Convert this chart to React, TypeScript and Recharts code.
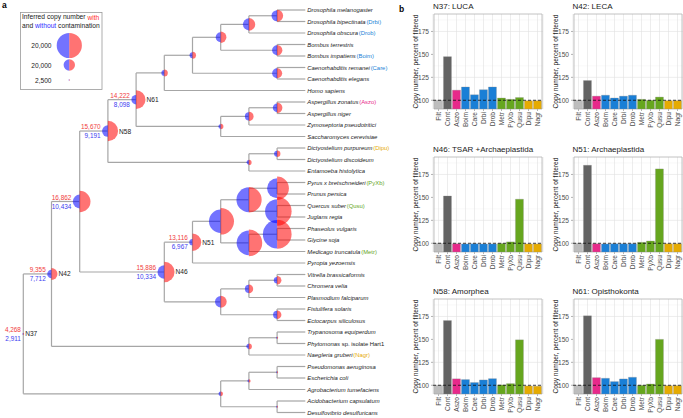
import {
  Bar,
  BarChart,
  CartesianGrid,
  Cell,
  ReferenceArea,
  ReferenceLine,
  Scatter,
  ScatterChart,
  XAxis,
  YAxis,
  ZAxis,
} from "recharts"

// ---- panel b data ----
const categories = ["Filt", "Cont", "Aszo", "Boim", "Care", "Drbi", "Drob", "Metr", "PyXb", "Qusu", "Dipu", "Nagr"]

const n37 = [100, 147.5, 111, 114.5, 106, 111.5, 114.5, 102.5, 101, 103, 99.5, 99.5]
const n42 = [100, 121.5, 104.5, 105.5, 102.5, 104.5, 105.5, 101, 100, 103.5, 99.6, 99.6]
const n46 = [100, 151.5, 99.5, 99.3, 99.5, 99.3, 99.3, 99.8, 101.5, 148, 99.3, 99.3]
const n51 = [100, 185, 99.5, 99.3, 99.5, 99.5, 99.5, 101, 102.5, 181, 99.5, 99.5]
const n58 = [100, 170.5, 107, 106.2, 103, 105.8, 107.2, 100.4, 101.8, 149.5, 99.3, 99]
const n61 = [100, 175.7, 108.3, 107.6, 104, 106.9, 108.7, 100, 101.4, 150, 99.6, 99.6]

const panelTitles = [
  "N37: LUCA",
  "N42: LECA",
  "N46: TSAR +Archaeplastida",
  "N51: Archaeplastida",
  "N58: Amorphea",
  "N61: Opisthokonta",
]
const panelValues = [n37, n42, n46, n51, n58, n61]

const yTicks = [100, 125, 150, 175]
const yMinor = [112.5, 137.5, 162.5, 187.5]

// ---- panel a data ----
const species = [
  "Drosophila melanogaster",
  "Drosophila bipectinata",
  "Drosophila obscura",
  "Bombus terrestris",
  "Bombus impatiens",
  "Caenorhabditis remanei",
  "Caenorhabditis elegans",
  "Homo sapiens",
  "Aspergillus zonatus",
  "Aspergillus niger",
  "Zymoseptoria pseudotritici",
  "Saccharomyces cerevisiae",
  "Dictyostelium purpureum",
  "Dictyostelium discoideum",
  "Entamoeba histolytica",
  "Pyrus x bretschneideri",
  "Prunus persica",
  "Quercus suber",
  "Juglans regia",
  "Phaseolus vulgaris",
  "Glycine soja",
  "Medicago truncatula",
  "Pyropia yezoensis",
  "Vitrella brassicaformis",
  "Chromera velia",
  "Plasmodium falciparum",
  "Fistulifera solaris",
  "Ectocarpus siliculosus",
  "Trypanosoma equiperdum",
  "Phytomonas| sp. isolate Hart1",
  "Naegleria gruberi",
  "Pseudomonas aeruginosa",
  "Escherichia coli",
  "Agrobacterium tumefaciens",
  "Acidobacterium capsulatum",
  "Desulfovibrio desulfuricans",
]

const speciesCodes = [
  "", "Drbi", "Drob", "", "Boim", "Care", "", "", "Aszo", "", "", "", "Dipu", "", "", "PyXb", "", "Qusu",
  "", "", "", "Metr", "", "", "", "", "", "", "", "", "Nagr", "", "", "", "", "",
]

// [node, child, child, copies with contamination, copies without]
const clades: [string, string, string, number, number][] = [
  ["dmdb", "L1", "L2", 9400, 8900],
  ["dros", "dmdb", "L3", 9740, 9370],
  ["bomb", "L4", "L5", 8630, 8340],
  ["ins", "dros", "bomb", 9040, 8340],
  ["caen", "L6", "L7", 8400, 8300],
  ["ecd", "ins", "caen", 7150, 6800],
  ["met", "ecd", "L8", 7150, 6800],
  ["asp", "L9", "L10", 8630, 7730],
  ["aspz", "asp", "L11", 8065, 7500],
  ["fun", "aspz", "L12", 6680, 6500],
  ["N61", "met", "fun", 14222, 8098],
  ["dic", "L13", "L14", 7020, 6840],
  ["amo", "dic", "L15", 6680, 6500],
  ["N58", "N61", "amo", 15670, 9191],
  ["pp", "L16", "L17", 19000, 15400],
  ["qj", "L18", "L19", 25660, 19460],
  ["rf", "pp", "qj", 21300, 20500],
  ["pg", "L20", "L21", 25660, 25000],
  ["fab", "pg", "L22", 22550, 20140],
  ["eud", "rf", "fab", 22550, 18800],
  ["N51", "eud", "L23", 13116, 6967],
  ["vc", "L24", "L25", 7730, 7020],
  ["alv", "vc", "L26", 7730, 7500],
  ["str", "L27", "L28", 7730, 7500],
  ["tsar", "alv", "str", 9370, 9040],
  ["N46", "N51", "tsar", 15886, 10334],
  ["n44", "N58", "N46", 16862, 10434],
  ["tryp", "L29", "L30", 6100, 6050],
  ["disc", "tryp", "L31", 6840, 6600],
  ["N42", "n44", "disc", 9355, 7712],
  ["pe", "L32", "L33", 6100, 6050],
  ["pro", "pe", "L34", 6270, 6200],
  ["ad", "L35", "L36", 6030, 6020],
  ["bac", "pro", "ad", 6500, 6450],
  ["N37", "N42", "bac", 4268, 2911],
]

const namedNodes = ["N37", "N42", "N46", "N51", "N58", "N61"]
const numberedNodes = ["N37", "N42", "n44", "N46", "N51", "N58", "N61"]

const legendLabels = ["20,000", "20,000", "2,500"]

// ---- styles ----
const categoryColors = [
  "#bdbdbd", "#636363", "#e7298a", "#1a7fd6", "#1a7fd6", "#1a7fd6", "#1a7fd6",
  "#66a61e", "#66a61e", "#66a61e", "#e6ab02", "#e6ab02",
]
const FONT = "'Liberation Sans', Arial, Helvetica, sans-serif"
const RED = "#ff0000"
const BLUE = "#0000ff"
const branchColor = "#a6a6a6"

// ---- tree layout (cladogram, tips aligned) ----
const pos: Record<string, { x: number; y: number }> = {}
species.forEach((_, i) => {
  pos["L" + (i + 1)] = { x: 10, y: i + 1 }
})
clades.forEach(([id, a, b]) => {
  pos[id] = { x: Math.min(pos[a].x, pos[b].x) - 1, y: (pos[a].y + pos[b].y) / 2 }
})

const nodeData = clades.map(([id, , , red, blue]) => ({
  id,
  x: pos[id].x,
  y: pos[id].y,
  red,
  blue,
  named: namedNodes.includes(id),
  numbered: numberedNodes.includes(id),
}))

const leafData = species.map((s, i) => {
  const [name, extra] = s.split("|")
  return { x: 10, y: i + 1, name, extra: extra || "", code: speciesCodes[i] }
})

const segments: { x1: number; y1: number; x2: number; y2: number }[] = []
clades.forEach(([id, a, b]) => {
  const p = pos[id]
  segments.push({ x1: p.x, y1: pos[a].y, x2: p.x, y2: pos[b].y })
  segments.push({ x1: p.x, y1: pos[a].y, x2: pos[a].x, y2: pos[a].y })
  segments.push({ x1: p.x, y1: pos[b].y, x2: pos[b].x, y2: pos[b].y })
})

const fmt = (v: number) => v.toLocaleString("en-US")

const halfPath = (cx: number, cy: number, r: number, left: boolean) =>
  `M${cx},${cy - r}A${r},${r} 0 0 ${left ? 0 : 1} ${cx},${cy + r}Z`

const codeColor = (code: string) => categoryColors[categories.indexOf(code)]

function BlueHalf(p: any) {
  const r = Math.max((p.width || 0) / 2, 0.9)
  const d = p.payload
  return (
    <g>
      <path d={halfPath(p.cx, p.cy, r, true)} fill={BLUE} fillOpacity={0.55} />
      {d.numbered && (
        <g fontSize={6.4}>
          <text x={p.cx - r - 1.5} y={p.cy - 4.4} textAnchor="end" dominantBaseline="central" fill="#f03c3c">
            {fmt(d.red)}
          </text>
          <text x={p.cx - r - 1.5} y={p.cy + 4.8} textAnchor="end" dominantBaseline="central" fill="#3c3cf0">
            {fmt(d.blue)}
          </text>
        </g>
      )}
    </g>
  )
}

function RedHalf(p: any) {
  const r = Math.max((p.width || 0) / 2, 0.9)
  const d = p.payload
  return (
    <g>
      <path d={halfPath(p.cx, p.cy, r, false)} fill={RED} fillOpacity={0.55} />
      {d.named && (
        <text x={p.cx + r + 1} y={p.cy} dominantBaseline="central" fontSize={6.6} fill="#1a1a1a">
          {d.id}
        </text>
      )}
    </g>
  )
}

function LeafLabel(p: any) {
  const d = p.payload
  return (
    <text x={p.cx + 2} y={p.cy} dominantBaseline="central" fontSize={5.9} fill="#1a1a1a">
      <tspan fontStyle="italic">{d.name}</tspan>
      {d.extra && <tspan>{d.extra}</tspan>}
      {d.code && (
        <tspan dx={0.8} fill={codeColor(d.code)}>
          ({d.code})
        </tspan>
      )}
    </text>
  )
}

function TreePanel() {
  return (
    <ScatterChart width={400} height={418} margin={{ top: 10, right: 94.7, bottom: 5.5, left: 23.3 }}>
      <XAxis type="number" dataKey="x" domain={[0, 10]} hide />
      <YAxis type="number" dataKey="y" domain={[1, 36]} reversed hide />
      <ZAxis zAxisId="b" type="number" dataKey="blue" domain={[0, 30000]} range={[-201.6, 806.4]} />
      <ZAxis zAxisId="r" type="number" dataKey="red" domain={[0, 30000]} range={[-201.6, 806.4]} />
      {segments.map((s, i) => (
        <ReferenceLine
          key={i}
          segment={[
            { x: s.x1, y: s.y1 },
            { x: s.x2, y: s.y2 },
          ]}
          stroke={branchColor}
          strokeWidth={1.2}
        />
      ))}
      <Scatter data={nodeData} zAxisId="b" shape={BlueHalf} isAnimationActive={false} />
      <Scatter data={nodeData} zAxisId="r" shape={RedHalf} isAnimationActive={false} />
      <Scatter data={leafData} shape={LeafLabel} isAnimationActive={false} />
    </ScatterChart>
  )
}

function Legend() {
  const radii = [12.6, 5.7, 0.8]
  const rows = [33.5, 53, 68]
  return (
    <svg width={84} height={80} style={{ position: "absolute", left: 20, top: 12 }}>
      <rect x={0.5} y={0.5} width={81.5} height={77} fill="#fff" stroke="#9a9a9a" strokeWidth={0.8} />
      <text x={2} y={4.6} dominantBaseline="central" fontSize={6.7} fill="#1a1a1a">
        Inferred copy number <tspan fill="#ff2e2e">with</tspan>
      </text>
      <text x={2} y={13.4} dominantBaseline="central" fontSize={6.7} fill="#1a1a1a">
        and <tspan fill="#2e2eff">without</tspan> contamination
      </text>
      {legendLabels.map((l, i) => (
        <g key={i}>
          <text x={31.5} y={rows[i]} textAnchor="end" dominantBaseline="central" fontSize={6.6} fill="#1a1a1a">
            {l}
          </text>
          <path d={halfPath(49.3, rows[i], radii[i], true)} fill={BLUE} fillOpacity={0.55} />
          <path d={halfPath(49.3, rows[i], radii[i], false)} fill={RED} fillOpacity={0.55} />
        </g>
      ))}
    </svg>
  )
}

function XTick(p: any) {
  return (
    <text
      x={p.x}
      y={p.y}
      transform={`rotate(-90 ${p.x} ${p.y})`}
      textAnchor="end"
      dominantBaseline="central"
      fontSize={6.6}
      fill="#4d4d4d"
    >
      {p.payload.value}
    </text>
  )
}

function YTitle(p: any) {
  const vb = p.viewBox
  const x = vb.x + vb.width - 18
  const y = vb.y + vb.height / 2
  return (
    <text x={x} y={y} transform={`rotate(-90 ${x} ${y})`} textAnchor="middle" dominantBaseline="central" fontSize={6.6} fill="#1a1a1a">
      Copy number, percent of filtered
    </text>
  )
}

function CopyPanel({ title, values, left, top }: { title: string; values: number[]; left: number; top: number }) {
  const data = categories.map((c, i) => ({ name: c, value: values[i] }))
  return (
    <div style={{ position: "absolute", left: left - 40, top: top - 14 }}>
      <div style={{ position: "absolute", left: 40, top: 2, fontSize: 8, lineHeight: "9px", whiteSpace: "nowrap", color: "#1a1a1a" }}>
        {title}
      </div>
      <BarChart width={152} height={135} data={data} margin={{ top: 14, right: 2, left: 0, bottom: 0 }} barCategoryGap="5%">
        <CartesianGrid horizontalValues={yMinor} vertical={false} stroke="#efefef" strokeWidth={0.4} />
        <CartesianGrid horizontalValues={yTicks} stroke="#e0e0e0" strokeWidth={0.6} />
        <XAxis
          dataKey="name"
          interval={0}
          height={26}
          tick={<XTick />}
          tickSize={2}
          tickMargin={1}
          axisLine={false}
          tickLine={{ stroke: "#b3b3b3" }}
          padding={{ left: 1, right: 1 }}
        />
        <YAxis
          type="number"
          domain={[90.5, 194]}
          allowDataOverflow
          ticks={yTicks}
          width={40}
          tickSize={2}
          tickMargin={2}
          axisLine={false}
          tickLine={{ stroke: "#b3b3b3" }}
          tick={{ fontSize: 6.6, fill: "#4d4d4d" }}
          label={<YTitle />}
        />
        <Bar dataKey="value" isAnimationActive={false} stroke="#8a8a8a" strokeWidth={0.3}>
          {data.map((d, i) => (
            <Cell key={d.name} fill={categoryColors[i]} />
          ))}
        </Bar>
        <ReferenceLine y={100} stroke="#111" strokeDasharray="3 2" strokeWidth={0.8} />
        <ReferenceArea y1={90.5} y2={194} fill="none" stroke="#b3b3b3" strokeWidth={0.8} />
      </BarChart>
    </div>
  )
}

const colLefts = [433, 572.5]
const rowTops = [14, 156.5, 299]

export default function App() {
  return (
    <div
      style={{
        position: "absolute",
        left: 0,
        top: 0,
        width: 683,
        height: 418,
        overflow: "hidden",
        background: "#fff",
        fontFamily: FONT,
      }}
    >
      <div style={{ position: "absolute", left: 0, top: 0 }}>
        <TreePanel />
      </div>
      <Legend />
      <div style={{ position: "absolute", left: 2, top: 0, fontSize: 8.5, fontWeight: "bold", lineHeight: "10px" }}>a</div>
      <div style={{ position: "absolute", left: 399, top: 4, fontSize: 8.5, fontWeight: "bold", lineHeight: "10px" }}>b</div>
      {panelTitles.map((t, i) => (
        <CopyPanel key={t} title={t} values={panelValues[i]} left={colLefts[i % 2]} top={rowTops[Math.floor(i / 2)]} />
      ))}
    </div>
  )
}
